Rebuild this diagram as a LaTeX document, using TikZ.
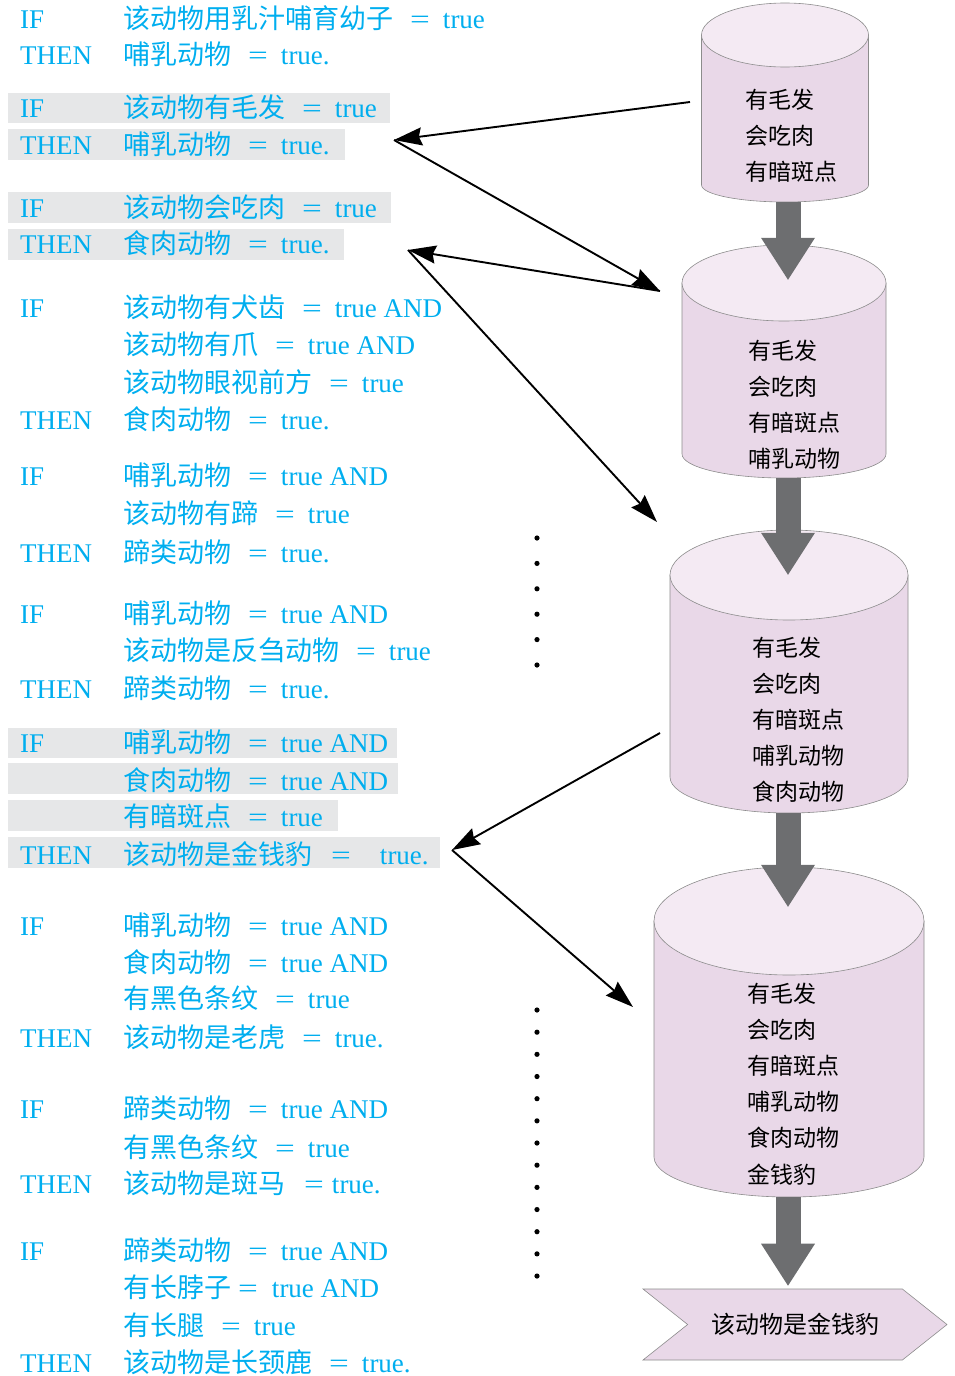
\documentclass[tikz,border=0pt]{standalone}
\usepackage{fontspec}
\setmainfont{Liberation Serif}
\newfontfamily\cjk{Noto Sans CJK SC}
\usetikzlibrary{arrows.meta,shapes.symbols}
\definecolor{rulecyan}{HTML}{00AEEF}
\definecolor{bandgray}{HTML}{E6E7E8}
\definecolor{cylbody}{HTML}{E9D8E8}
\definecolor{cyltop}{HTML}{F4EAF3}
\definecolor{cylline}{HTML}{8C8C8C}
\definecolor{blockgray}{HTML}{6D6E70}
% uguale con spazi a sinistra e a destra
\newcommand{\eqs}[2]{\hspace{#1}\scalebox{1.3}[1]{=}\hspace{#2}}
\newcommand{\eq}{\eqs{17pt}{13pt}}
% cilindro: nome, cx, alto, basso, semilarghezza, raggio sopra, raggio sotto
\newcommand{\memo}[7]{%
    \filldraw[memobody] (#2-#5,#3+#6) -- (#2-#5,#4-#7)
        arc[start angle=180,end angle=0,x radius=#5,y radius=#7] -- (#2+#5,#3+#6) -- cycle;
    \filldraw[memotop] (#2,#3+#6) ellipse [x radius=#5,y radius=#6];
    \node[inner sep=0pt,minimum width={2*#5*1pt},minimum height={(#4-#3)*1pt}] (#1) at (#2,{(#3+#4)/2}) {};
}
\begin{document}
\begin{tikzpicture}[x=1pt,y=-1pt,
    kw/.style={anchor=base west,inner sep=0pt,text=rulecyan,font=\fontsize{27}{30}\selectfont},
    cond/.style={kw},
    band/.style={fill=bandgray},
    memobody/.style={draw=cylline,line width=0.6pt,fill=cylbody},
    memotop/.style={draw=cylline,line width=0.6pt,fill=cyltop},
    fact/.style={anchor=base west,inner sep=0pt,font=\cjk\fontsize{23}{26}\selectfont},
    link/.style={line width=1.9pt,-{Stealth[length=28pt,width=18pt,inset=3pt]}},
    blockarrow/.style={line width=25pt,blockgray,-{Triangle[length=42pt,width=54pt,line width=0pt]}},
    banner/.style={signal,signal from=west,signal to=east,signal pointer angle=77,
        minimum width=304pt,minimum height=71pt,inner sep=0pt,draw=cylline,line width=0.6pt,
        fill=cylbody,font=\cjk\fontsize{24}{26}\selectfont}]
    \useasboundingbox (0,0) rectangle (954,1376);

    % fasce grigie delle regole usate
    \foreach \t/\b/\r in {93/123/390,129/160/345,192/223/391,229/260/344,
        728/758/397,763/794/398,800/831/338,837/868/440}
        \fill[band] (8,\t) rectangle (\r,\b);

    % regole
    \foreach \y/\k/\z/\r [count=\i] in {
        28/IF/该动物用乳汁哺育幼子/\eq true,
        64/THEN/哺乳动物/\eq true.,
        117/IF/该动物有毛发/\eq true,
        154/THEN/哺乳动物/\eq true.,
        217/IF/该动物会吃肉/\eq true,
        253/THEN/食肉动物/\eq true.,
        317/IF/该动物有犬齿/\eq true AND,
        354//该动物有爪/\eq true AND,
        392//该动物眼视前方/\eq true,
        429/THEN/食肉动物/\eq true.,
        485/IF/哺乳动物/\eq true AND,
        523//该动物有蹄/\eq true,
        562/THEN/蹄类动物/\eq true.,
        623/IF/哺乳动物/\eq true AND,
        660//该动物是反刍动物/\eq true,
        698/THEN/蹄类动物/\eq true.,
        752/IF/哺乳动物/\eq true AND,
        790//食肉动物/\eq true AND,
        826//有暗斑点/\eq true,
        864/THEN/该动物是金钱豹/{\eqs{19pt}{29pt}true.},
        935/IF/哺乳动物/\eq true AND,
        972//食肉动物/\eq true AND,
        1008//有黑色条纹/\eq true,
        1047/THEN/该动物是老虎/\eq true.,
        1118/IF/蹄类动物/\eq true AND,
        1157//有黑色条纹/\eq true,
        1193/THEN/该动物是斑马/{\eqs{19pt}{8pt}true.},
        1260/IF/蹄类动物/\eq true AND,
        1297//有长脖子/{\eqs{7pt}{14pt}true AND},
        1335//有长腿/\eq true,
        1372/THEN/该动物是长颈鹿/\eq true.}
    {
        \node[kw] (kw\i) at (20,\y) {\k};
        \node[cond] (cd\i) at (123,\y) {{\cjk\z}\r};
    }

    % cilindri dei fatti
    \memo{c1}{785}{3}{202}{83.5}{32}{17}
    \memo{c2}{784}{245}{478}{102}{38}{24}
    \memo{c3}{789}{530}{813}{119}{45}{36}
    \memo{c4}{789}{867}{1197}{135}{54}{40}

    \foreach \t [count=\i] in {有毛发,会吃肉,有暗斑点}
        \node[fact] (fa\i) at (745,{108+36*(\i-1)}) {\t};
    \foreach \t [count=\i] in {有毛发,会吃肉,有暗斑点,哺乳动物}
        \node[fact] (fb\i) at (748,{359+36*(\i-1)}) {\t};
    \foreach \t [count=\i] in {有毛发,会吃肉,有暗斑点,哺乳动物,食肉动物}
        \node[fact] (fc\i) at (752,{656+36*(\i-1)}) {\t};
    \foreach \t [count=\i] in {有毛发,会吃肉,有暗斑点,哺乳动物,食肉动物,金钱豹}
        \node[fact] (fd\i) at (747,{1002+36.2*(\i-1)}) {\t};

    % conclusione
    \node[banner] (res) at (795,1324.5) {该动物是金钱豹};

    % frecce grosse, tutte sulla stessa verticale
    \coordinate (asse) at (788,0);
    \draw[blockarrow] (c1.south -| asse) -- ([yshift=-35pt]c2.north -| asse);
    \draw[blockarrow] (c2.south -| asse) -- ([yshift=-45pt]c3.north -| asse);
    \draw[blockarrow] (c3.south -| asse) -- ([yshift=-40pt]c4.north -| asse);
    \draw[blockarrow] (c4.south -| asse) -- ([yshift=3pt]res.north -| asse);

    % frecce di confronto
    \coordinate (m1) at (690,102);
    \coordinate (h2) at (394,140);
    \coordinate (m2) at (660,291);
    \coordinate (h3) at (408,250);
    \coordinate (m3) at (657,522);
    \coordinate (m3b) at (660,733);
    \coordinate (h7) at (452,850);
    \coordinate (m4) at (633,1007);
    \draw[link] (m1) -- (h2);
    \draw[link] (h2) -- (m2);
    \draw[link] (m2) -- (h3);
    \draw[link] (h3) -- (m3);
    \draw[link] (m3b) -- (h7);
    \draw[link] (h7) -- (m4);

    % puntini
    \foreach \i in {0,...,5}
        \fill (537,{538+25.4*\i}) circle (2.6);
    \foreach \i in {0,...,12}
        \fill (537,{1010+22.17*\i}) circle (2.6);
\end{tikzpicture}
\end{document}
